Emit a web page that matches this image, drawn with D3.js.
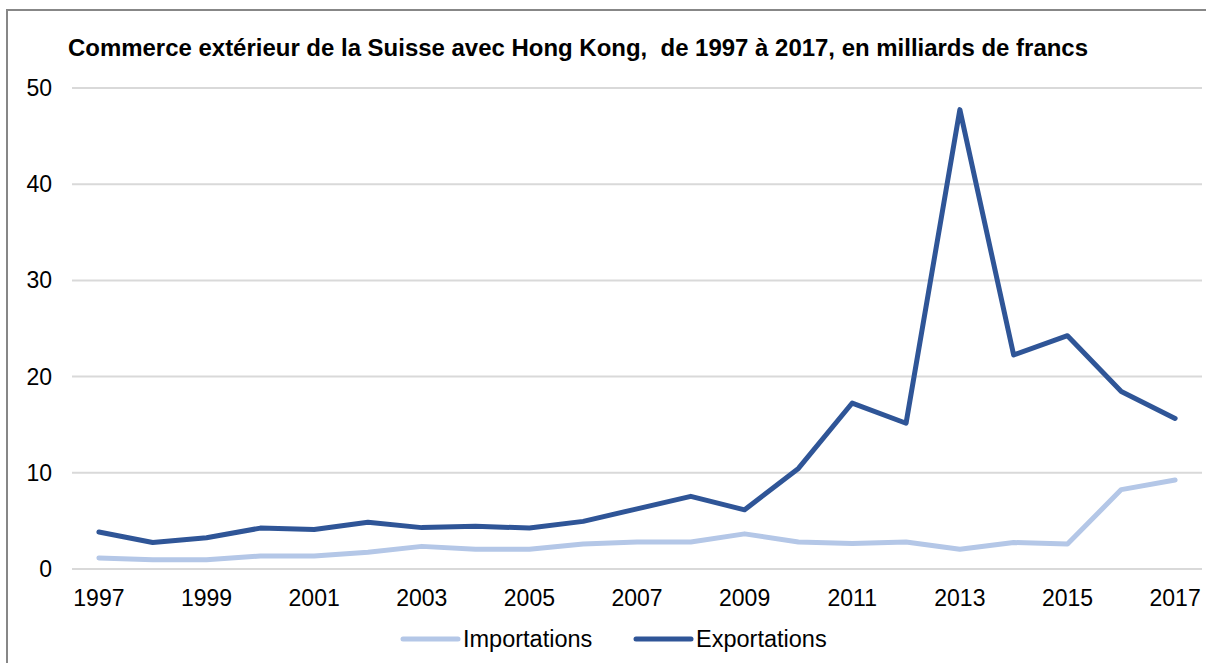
<!DOCTYPE html>
<html>
<head>
<meta charset="utf-8">
<script src="https://cdn.jsdelivr.net/npm/d3@7"></script>
<style>
  body { margin: 0; background: #fff; overflow: hidden; }
  text { font-family: "Liberation Sans", Arial, sans-serif; fill: #000; }
</style>
</head>
<body>
<div id="canvas"></div>
<script>
const years = d3.range(1997, 2018).map(String);
const importations = [1.1, 0.9, 0.9, 1.3, 1.3, 1.7, 2.3, 2.0, 2.0, 2.55, 2.75, 2.75, 3.6, 2.75, 2.6, 2.75, 2.0, 2.7, 2.55, 8.2, 9.2];
const exportations = [3.8, 2.7, 3.2, 4.2, 4.05, 4.8, 4.25, 4.4, 4.2, 4.9, 6.2, 7.5, 6.1, 10.4, 17.2, 15.1, 47.7, 22.2, 24.2, 18.4, 15.6];
const yTicks = [0, 10, 20, 30, 40, 50];
const xLabels = years.filter((d, i) => i % 2 === 0);
const title = "Commerce extérieur de la Suisse avec Hong Kong,  de 1997 à 2017, en milliards de francs";

const width = 1206;
const height = 663;
const margin = { top: 87.5, left: 72, bottom: 94.5, right: 4 };
const iwidth = width - margin.left - margin.right;
const iheight = height - margin.top - margin.bottom;

const svg = d3.select("#canvas").append("svg")
  .attr("width", width)
  .attr("height", height)
  .style("display", "block");

// frame: only top and left edges are inside the picture
svg.append("path")
  .attr("d", `M7,${height} V10 H${width}`)
  .attr("fill", "none")
  .attr("stroke", "#878787")
  .attr("stroke-width", 2);

svg.append("text")
  .attr("x", 68).attr("y", 56)
  .style("font-size", "23.5px")
  .style("font-weight", "bold")
  .attr("xml:space", "preserve")
  .attr("textLength", 1020)
  .attr("lengthAdjust", "spacingAndGlyphs")
  .text(title);

const g = svg.append("g").attr("transform", `translate(${margin.left},${margin.top})`);

const x = d3.scaleBand().domain(years).range([0, iwidth]).padding(0);
const y = d3.scaleLinear().domain([0, 50]).range([iheight, 0]);
const cx = d => x(d) + x.bandwidth() / 2;

// gridlines + y labels
g.append("g")
  .classed("y--axis", true)
  .call(d3.axisLeft(y).tickValues(yTicks).tickSize(-iwidth).tickPadding(20).tickFormat(d3.format("d")))
  .call(a => a.select(".domain").remove())
  .call(a => a.selectAll("line").attr("stroke", "#d9d9d9").attr("stroke-width", 2))
  .call(a => a.selectAll("text").style("font-size", "23px").attr("x", -20).attr("dy", "0.35em"));

g.append("g")
  .classed("x--axis", true)
  .attr("transform", `translate(0, ${iheight})`)
  .call(d3.axisBottom(x).tickValues(xLabels).tickSize(0).tickPadding(21))
  .call(a => a.select(".domain").remove())
  .call(a => a.selectAll("text").style("font-size", "23px"));

const line = d3.line().x((d, i) => cx(years[i])).y(d => y(d));

const series = [
  { name: "Importations", values: importations, color: "#b4c7e7" },
  { name: "Exportations", values: exportations, color: "#2f5597" }
];

g.selectAll(".series").data(series).enter().append("path")
  .attr("class", "series")
  .attr("d", d => line(d.values))
  .attr("fill", "none")
  .attr("stroke", d => d.color)
  .attr("stroke-width", 5)
  .attr("stroke-linejoin", "round")
  .attr("stroke-linecap", "round");

// legend
const legendX = [403, 636];
const legend = svg.selectAll(".legend").data(series).enter().append("g")
  .attr("class", "legend")
  .attr("transform", (d, i) => `translate(${legendX[i]}, 639)`);
legend.append("line")
  .attr("x1", 0).attr("x2", 55)
  .attr("stroke", d => d.color)
  .attr("stroke-width", 5)
  .attr("stroke-linecap", "round");
legend.append("text")
  .attr("x", 60).attr("y", 8)
  .style("font-size", "23.5px")
  .text(d => d.name);
</script>
</body>
</html>
